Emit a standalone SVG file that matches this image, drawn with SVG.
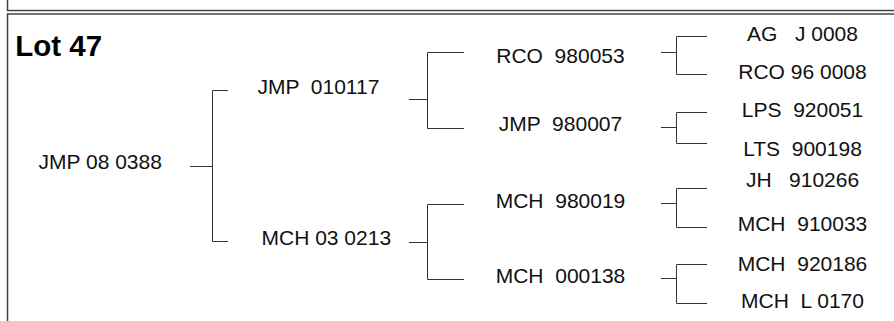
<svg xmlns="http://www.w3.org/2000/svg" width="894" height="321" viewBox="0 0 894 321">
<style>
  .t { font-family: "Liberation Sans", Arial, sans-serif; font-size: 21px; fill: #111; }
  .m { text-anchor: middle; }
  .title { font-family: "Liberation Sans", Arial, sans-serif; font-size: 29.5px; font-weight: bold; fill: #000; }
  .frame { fill: none; stroke: #444; stroke-width: 1.5; }
  .conn { fill: none; stroke: #333; stroke-width: 1; }
</style>
<rect width="894" height="321" fill="#fff"/>
<g id="frame">
  <path class="frame" d="M7.5 0 V10.5 H894"/>
  <path class="frame" d="M894 14 H7.5 V321"/>
</g>
<g id="title"><text class="title" x="15.2" y="56">Lot 47</text></g>
<g id="connectors">
  <path class="conn" d="M190 166.5 H212.5 M228 90.5 H212.5 V241.5 H228"/>
  <path class="conn" d="M409 99.5 H427.5 M464 52.5 H427.5 V128.5 H464"/>
  <path class="conn" d="M409 242.5 H427.5 M464 204.5 H427.5 V279.5 H464"/>
  <path class="conn" d="M661 52.5 H676.5 M707 36.5 H676.5 V74.5 H707"/>
  <path class="conn" d="M661 127.5 H676.5 M707 112.5 H676.5 V143.5 H707"/>
  <path class="conn" d="M661 203.5 H676.5 M707 188.5 H676.5 V227.5 H707"/>
  <path class="conn" d="M661 278.5 H676.5 M707 264.5 H676.5 V303.5 H707"/>
</g>
<g id="n-jmp080388"><text class="t" x="38.5" y="169">JMP 08 0388</text></g>
<g id="n-jmp010117"><text class="t" x="257.5" y="94" xml:space="preserve">JMP  010117</text></g>
<g id="n-mch030213"><text class="t" x="261.5" y="245">MCH 03 0213</text></g>
<g id="n-rco980053"><text class="t m" x="560.5" y="63" xml:space="preserve">RCO  980053</text></g>
<g id="n-jmp980007"><text class="t m" x="560.5" y="131" xml:space="preserve">JMP  980007</text></g>
<g id="n-mch980019"><text class="t m" x="560.5" y="208" xml:space="preserve">MCH  980019</text></g>
<g id="n-mch000138"><text class="t m" x="560.5" y="283" xml:space="preserve">MCH  000138</text></g>
<g id="n-agj0008"><text class="t m" x="802.5" y="41" xml:space="preserve">AG   J 0008</text></g>
<g id="n-rco960008"><text class="t m" x="802.5" y="79">RCO 96 0008</text></g>
<g id="n-lps920051"><text class="t m" x="802.5" y="117" xml:space="preserve">LPS  920051</text></g>
<g id="n-lts900198"><text class="t m" x="802.5" y="156" xml:space="preserve">LTS  900198</text></g>
<g id="n-jh910266"><text class="t m" x="802.5" y="187" xml:space="preserve">JH   910266</text></g>
<g id="n-mch910033"><text class="t m" x="802.5" y="231" xml:space="preserve">MCH  910033</text></g>
<g id="n-mch920186"><text class="t m" x="802.5" y="271" xml:space="preserve">MCH  920186</text></g>
<g id="n-mchl0170"><text class="t m" x="802.5" y="308" xml:space="preserve">MCH  L 0170</text></g>
</svg>
